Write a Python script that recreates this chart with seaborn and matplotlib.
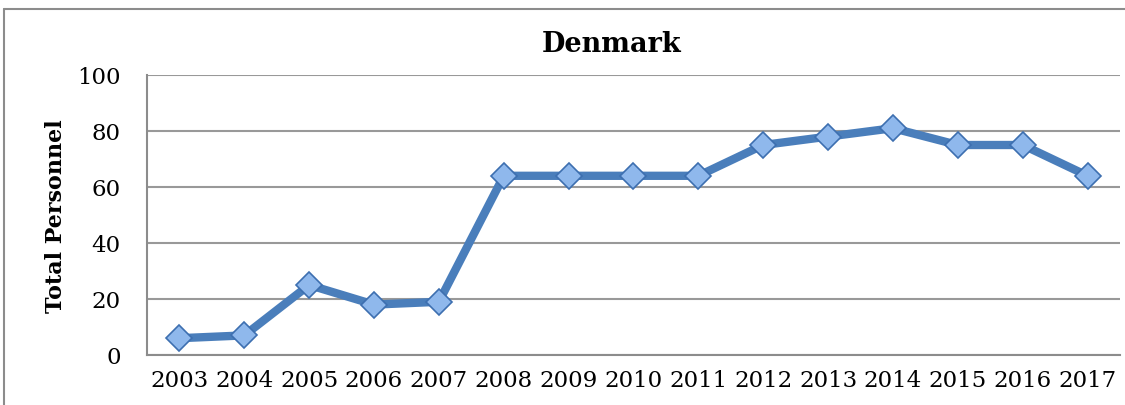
import matplotlib
matplotlib.use("Agg")
import matplotlib.pyplot as plt
import seaborn as sns
import pandas as pd
from matplotlib.lines import Line2D

# values
years = ["2003", "2004", "2005", "2006", "2007", "2008", "2009", "2010",
         "2011", "2012", "2013", "2014", "2015", "2016", "2017"]
personnel = [6, 7, 25, 18, 19, 64, 64, 64, 64, 75, 78, 81, 75, 75, 64]
y_ticks = [0, 20, 40, 60, 80, 100]

sns.set_theme(style="white")
plt.rcParams['font.family'] = ['DejaVu Serif']
plt.rcParams['text.color'] = 'black'

df = pd.DataFrame({'year': years, 'personnel': personnel})

fig = plt.figure(figsize=(11.25, 4.06), dpi=100)
ax = fig.add_axes([147 / 1125, 50 / 406, 973 / 1125, 280 / 406])

# outer chart frame: only left and top edges show in the screenshot
fy = 1 - 10 / 406
fx = 4 / 1125
fig.lines.append(Line2D([fx, fx], [0, fy], transform=fig.transFigure,
                        color='#8c8c8c', linewidth=1.5))
fig.lines.append(Line2D([fx, 1], [fy, fy], transform=fig.transFigure,
                        color='#8c8c8c', linewidth=1.5))

sns.lineplot(data=df, x='year', y='personnel', ax=ax, sort=False,
             color='#4a7ebb', linewidth=6, marker='D', markersize=13.5,
             markerfacecolor='#8fb8ec', markeredgecolor='#3d6fb0',
             markeredgewidth=1.2)

ax.set_xlim(-0.5, len(years) - 0.5)
ax.set_ylim(0, 100)
ax.set_yticks(y_ticks)
ax.yaxis.grid(True, color='#999999', linewidth=1.5)
ax.set_axisbelow(True)
for side in ['top', 'right']:
    ax.spines[side].set_visible(False)
for side in ['left', 'bottom']:
    ax.spines[side].set_color('#8c8c8c')
    ax.spines[side].set_linewidth(1.5)
ax.tick_params(axis='both', length=0, labelsize=16.5, colors='black')
ax.tick_params(axis='y', pad=19)
ax.tick_params(axis='x', pad=10)
ax.set_xlabel('')
ax.set_ylabel('Total Personnel', fontsize=16, fontweight='bold',
              labelpad=7, color='black')

fig.text(612 / 1125, 1 - 45 / 406, 'Denmark', ha='center', va='center',
         fontsize=19.5, fontweight='bold', color='black')

fig.savefig('out.png', dpi=100)
